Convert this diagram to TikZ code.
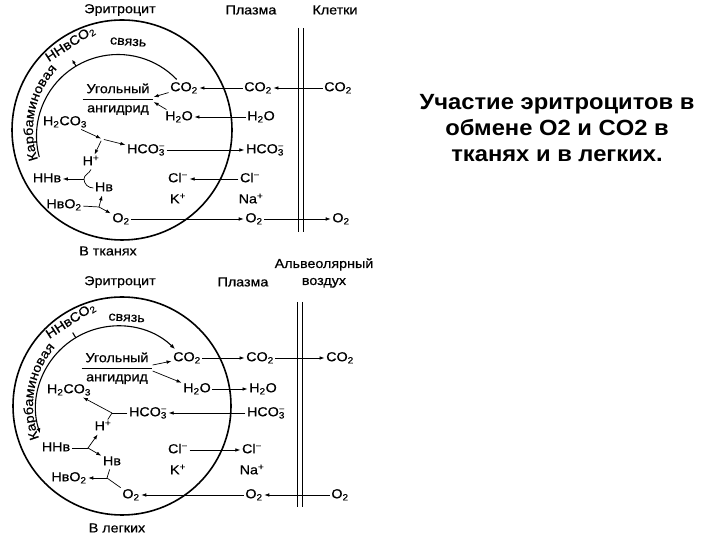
\documentclass[tikz,border=0pt]{standalone}
\usepackage{fontspec}
\setmainfont{Liberation Sans}
\newfontfamily\lblfont[FakeStretch=1.1,FakeBold=0.5]{Liberation Sans}
\newfontfamily\ttlfont[FakeStretch=1.08]{Liberation Sans}
\usetikzlibrary{arrows.meta,decorations.text}

\newcommand{\hcoion}{HCO\rlap{\textsuperscript{−}}\textsubscript{3}}
\newcommand{\lblsize}{\lblfont\fontsize{13}{15}\selectfont}

\begin{document}
\begin{tikzpicture}[
  x=1pt, y=1pt,
  lbl/.style={font=\lblsize, inner sep=1.5pt, text height=9pt, text depth=2.5pt},
  hdr/.style={font=\lblsize, inner sep=0pt, align=center},
  anh/.style={font=\lblsize, inner sep=0pt},
  flow/.style={-{Latex[length=5pt,width=3.6pt]}, line width=0.7pt},
  link/.style={line width=0.7pt},
  cellwall/.style={line width=1.6pt},
  carb/.style={line width=1.1pt},
  memb/.style={line width=0.9pt},
  ttl/.style={font=\ttlfont\bfseries\fontsize{22}{26}\selectfont, align=center}
]
\useasboundingbox (0,0) rectangle (720,540);

% ---- tissues (top) ----
\coordinate (tc) at (122,410);
\coordinate (ti) at (118,404);
\draw[cellwall] (tc) circle[radius=110];
\draw[carb] ([shift={(195:81.5)}]ti) arc[start angle=195,end angle=44,radius=81.5];
\draw[carb,-{Latex[length=4pt,width=3.5pt]}] ([shift={(121:81.5)}]ti) -- ([shift={(121:89)}]ti);
\draw[memb] (298,512) -- (298,308);
\draw[memb] (303,512) -- (303,308);

\path[decorate, decoration={text along path, text align=center,
      text={|\lblsize|Карбаминовая}}]
  ([shift={(200:89)}]tc) arc[start angle=200,end angle=136,radius=89];
\node[lbl, rotate=33] (thbco2) at ([shift={(121:100)}]tc) {HНвCO\textsubscript{2}};
\node[lbl, rotate=-4] (tsv) at ([shift={(86:88)}]tc) {связь};

\node[hdr] (ter) at (120,530) {Эритроцит};
\node[hdr] (tpl) at (251,530) {Плазма};
\node[hdr] (tkl) at (335,530) {Клетки};

\node[anh] (tanh) at (118,441) {\renewcommand{\arraystretch}{1.25}%
  \begin{tabular}{@{\hspace{4pt}}c@{\hspace{4pt}}}Угольный\\\hline ангидрид\end{tabular}};
\node[lbl] (tco2r) at (184,452) {CO\textsubscript{2}};
\node[lbl] (tco2p) at (258,452) {CO\textsubscript{2}};
\node[lbl] (tco2k) at (338,452) {CO\textsubscript{2}};
\node[lbl] (th2or) at (179,423) {H\textsubscript{2}O};
\node[lbl] (th2op) at (261,423) {H\textsubscript{2}O};
\node[lbl] (th2co3) at (65,418) {H\textsubscript{2}CO\textsubscript{3}};
\coordinate (tj1) at (102,401);
\node[lbl] (thco3r) at (146,390) {\hcoion};
\node[lbl] (thco3p) at (265,390) {\hcoion};
\node[lbl] (thp) at (91,378) {H\textsuperscript{+}};
\node[lbl] (thhb) at (47,361) {HНв};
\coordinate (tj2) at (84,361);
\node[lbl] (thb) at (104,352) {Нв};
\node[lbl] (thbo2) at (64,335) {НвO\textsubscript{2}};
\coordinate (tj3) at (99,333);
\node[lbl] (to2r) at (121,321) {O\textsubscript{2}};
\node[lbl] (to2p) at (254,321) {O\textsubscript{2}};
\node[lbl] (to2k) at (341,321) {O\textsubscript{2}};
\node[lbl] (tclr) at (178,361) {Cl\textsuperscript{−}};
\node[lbl] (tclp) at (250,361) {Cl\textsuperscript{−}};
\node[lbl] (tkr) at (178,340) {K\textsuperscript{+}};
\node[lbl] (tnap) at (251,340) {Na\textsuperscript{+}};
\node[hdr] (ttis) at (108,289) {В тканях};

\draw[flow] (tco2k) -- (tco2p);
\draw[flow] (tco2p) -- (tco2r);
\draw[flow] (tco2r) -- ([yshift=2pt]tanh.east);
\draw[flow] (th2or) -- ([yshift=-3pt]tanh.east);
\draw[flow] (th2op) -- (th2or);
\draw[flow, shorten >=1pt] (th2co3) -- (tj1);
\draw[flow, shorten <=2pt] (tj1) -- (thp);
\draw[flow, shorten <=2pt] (tj1) -- (thco3r);
\draw[flow] (thco3r) -- (thco3p);
\draw[link] (thp.south) to[out=-110,in=90] (tj2) to[out=-90,in=180] (thb.west);
\draw[flow] (tj2) -- (thhb);
\draw[link] (thbo2) -- (tj3);
\draw[flow] (tj3) -- (thb);
\draw[flow] (tj3) -- (to2r);
\draw[flow] (to2r) -- (to2p);
\draw[flow] (to2p) -- (to2k);
\draw[flow] (tclp) -- (tclr);

% ---- lungs (bottom) ----
\coordinate (lc) at (122,134);
\coordinate (li) at (118,132);
\draw[cellwall] (lc) circle[radius=109];
\draw[carb,-{Latex[length=5pt,width=4pt]}] ([shift={(121:82)}]li) arc[start angle=121,end angle=46,radius=82];
\draw[carb,-{Latex[length=5pt,width=4pt]}] ([shift={(121:82)}]li) arc[start angle=121,end angle=198,radius=82];
\draw[carb] ([shift={(121:82)}]li) -- ([shift={(121:88)}]li);
\draw[memb] (297,238) -- (297,33);
\draw[memb] (302,238) -- (302,33);

\path[decorate, decoration={text along path, text align=center,
      text={|\lblsize|Карбаминовая}}]
  ([shift={(203:89)}]lc) arc[start angle=203,end angle=137,radius=89];
\node[lbl, rotate=33] (lhbco2) at ([shift={(121:99)}]lc) {HНвCO\textsubscript{2}};
\node[lbl, rotate=-3] (lsv) at ([shift={(87:88)}]lc) {связь};

\node[hdr] (ler) at (120,258) {Эритроцит};
\node[hdr] (lpl) at (243,258) {Плазма};
\node[hdr, font=\lblfont\fontsize{13}{17}\selectfont] (lalv) at (324,267) {Альвеолярный\\воздух};

\node[anh] (lanh) at (117,172) {\renewcommand{\arraystretch}{1.25}%
  \begin{tabular}{@{\hspace{4pt}}c@{\hspace{4pt}}}Угольный\\\hline ангидрид\end{tabular}};
\node[lbl] (lco2r) at (187,182) {CO\textsubscript{2}};
\node[lbl] (lco2p) at (260,182) {CO\textsubscript{2}};
\node[lbl] (lco2a) at (340,182) {CO\textsubscript{2}};
\node[lbl] (lh2or) at (197,151) {H\textsubscript{2}O};
\node[lbl] (lh2op) at (263,151) {H\textsubscript{2}O};
\node[lbl] (lh2co3) at (69,150) {H\textsubscript{2}CO\textsubscript{3}};
\node[lbl] (lhco3r) at (148,127) {\hcoion};
\node[lbl] (lhco3p) at (266,127) {\hcoion};
\coordinate (lj1) at (112,127);
\node[lbl] (lhp) at (103,113) {H\textsuperscript{+}};
\node[lbl] (lhhb) at (56,92) {HНв};
\coordinate (lj2) at (88,92);
\node[lbl] (lhb) at (112,78) {Нв};
\node[lbl] (lhbo2) at (69,62) {НвO\textsubscript{2}};
\coordinate (lj3) at (107,62);
\node[lbl] (lo2r) at (131,45) {O\textsubscript{2}};
\node[lbl] (lo2p) at (254,45) {O\textsubscript{2}};
\node[lbl] (lo2a) at (340,45) {O\textsubscript{2}};
\node[lbl] (lclr) at (178,90) {Cl\textsuperscript{−}};
\node[lbl] (lclp) at (252,90) {Cl\textsuperscript{−}};
\node[lbl] (lkr) at (178,69) {K\textsuperscript{+}};
\node[lbl] (lnap) at (252,69) {Na\textsuperscript{+}};
\node[hdr] (llung) at (117,12) {В легких};

\draw[flow] ([yshift=3pt]lanh.east) -- (lco2r);
\draw[flow] ([yshift=-3pt]lanh.east) -- (lh2or);
\draw[flow] (lco2r) -- (lco2p);
\draw[flow] (lco2p) -- (lco2a);
\draw[flow] (lh2or) -- (lh2op);
\draw[flow] (lhco3p) -- (lhco3r);
\draw[link] (lhco3r) -- (lj1);
\draw[link] (lhp) -- (lj1);
\draw[flow] (lj1) -- (lh2co3);
\draw[link] (lhhb) -- (lj2);
\draw[flow] (lj2) -- (lhp);
\draw[flow] (lj2) -- (lhb);
\draw[link] (lhb) -- (lj3);
\draw[link] (lo2r) -- (lj3);
\draw[flow] (lj3) -- (lhbo2);
\draw[flow] (lo2p) -- (lo2r);
\draw[flow] (lo2a) -- (lo2p);
\draw[flow] (lclr) -- (lclp);

% title
\node[ttl] (title) at (557,412) {Участие эритроцитов в\\обмене O2 и CO2 в\\тканях и в легких.};
\end{tikzpicture}
\end{document}
